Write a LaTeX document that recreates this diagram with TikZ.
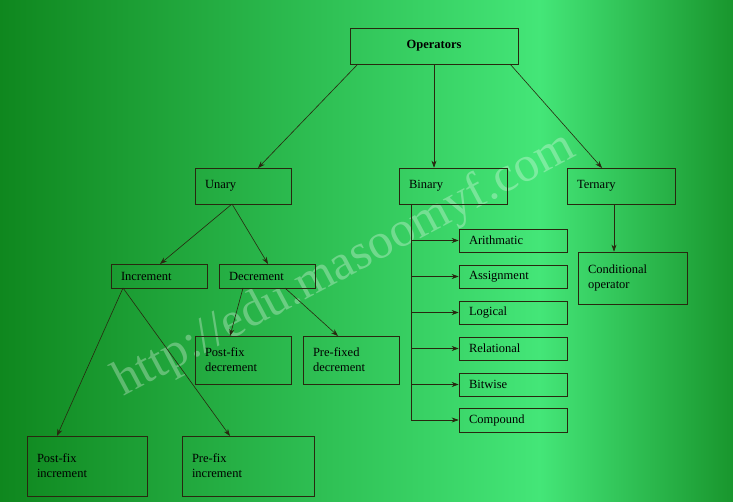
\documentclass[tikz,border=0pt]{standalone}
\usepackage{fontspec}
\setmainfont{Liberation Serif}
\usetikzlibrary{arrows.meta}
\definecolor{ln}{RGB}{40,40,15}
\definecolor{bgA}{RGB}{15,135,30}
\definecolor{bgB}{RGB}{68,230,120}
\definecolor{bgC}{RGB}{25,150,45}
\tikzset{
  box/.style={draw=ln,line width=0.7pt,inner sep=0pt,text=black,font=\fontsize{12.5}{15}\selectfont,align=left},
  arr/.style={draw=ln,line width=0.6pt,-{Stealth[length=7pt,width=5pt]}}
}
\newcommand{\bx}[6]{%
  \node[box,minimum width={(#4-#2)*1pt},minimum height={(#5-#3)*1pt},text width={(#4-#2-20)*1pt}] (#1) at ({(#2+#4)/2},{(#3+#5)/2}) {#6};}
\begin{document}
\begin{tikzpicture}[x=1pt,y=-1pt]
\useasboundingbox (0,0) rectangle (733,502);
\shade[left color=bgA,right color=bgB] (0,0) rectangle (540,502);
\shade[left color=bgB,right color=bgC] (539.5,0) rectangle (733,502);
\node[rotate=28,text=white,opacity=0.3,font=\fontsize{50}{50}\selectfont] (wm) at (345,265) {http://edu.masoomyf.com};
\node[box,minimum width=168pt,minimum height=36pt,align=center,font=\fontsize{12.5}{15}\selectfont\bfseries] (op) at (434,46) {Operators};
\bx{un}{195}{168}{291}{204}{Unary}
\bx{bi}{399}{168}{507}{204}{Binary}
\bx{te}{567}{168}{675}{204}{Ternary}
\bx{inc}{111}{264}{207}{288}{Increment}
\bx{dec}{219}{264}{315}{288}{Decrement}
\bx{pod}{195}{336}{291}{384}{Post-fix\\decrement}
\bx{prd}{303}{336}{399}{384}{Pre-fixed\\decrement}
\bx{poi}{27}{436}{147}{496}{Post-fix\\increment}
\bx{pri}{182}{436}{314}{496}{Pre-fix\\increment}
\bx{ar}{459}{229}{567}{252}{Arithmatic}
\bx{as}{459}{265}{567}{288}{Assignment}
\bx{lo}{459}{301}{567}{324}{Logical}
\bx{re}{459}{337}{567}{360}{Relational}
\bx{bw}{459}{373}{567}{396}{Bitwise}
\bx{co}{459}{408}{567}{432}{Compound}
\bx{cd}{578}{252}{687}{304}{Conditional\\operator}
\coordinate (o1) at (358,64); \coordinate (o3) at (510,64);
\draw[arr] (o1) -- (258,168);
\draw[arr] (op.south) -- (bi.north -| op.south);
\draw[arr] (o3) -- (602,168);
\coordinate (ub) at (232,204);
\draw[arr] (ub) -- (160,264);
\draw[arr] (ub) -- (268,264);
\coordinate (it) at (123,288);
\draw[arr] (it) -- (57,436);
\draw[arr] (it) -- (230,436);
\coordinate (d1) at (243,288); \coordinate (d2) at (285,288);
\draw[arr] (d1) -- (230,336);
\draw[arr] (d2) -- (338,336);
\coordinate (bt) at (411,204); \coordinate (bb) at (411,420);
\draw[draw=ln,line width=0.6pt] (bt) -- (bb);
\foreach \n in {ar,as,lo,re,bw,co} \draw[arr] (bt |- \n.west) -- (\n.west);
\draw[arr] (te.south -| 614,0) -- (cd.north -| 614,0);
\end{tikzpicture}
\end{document}
